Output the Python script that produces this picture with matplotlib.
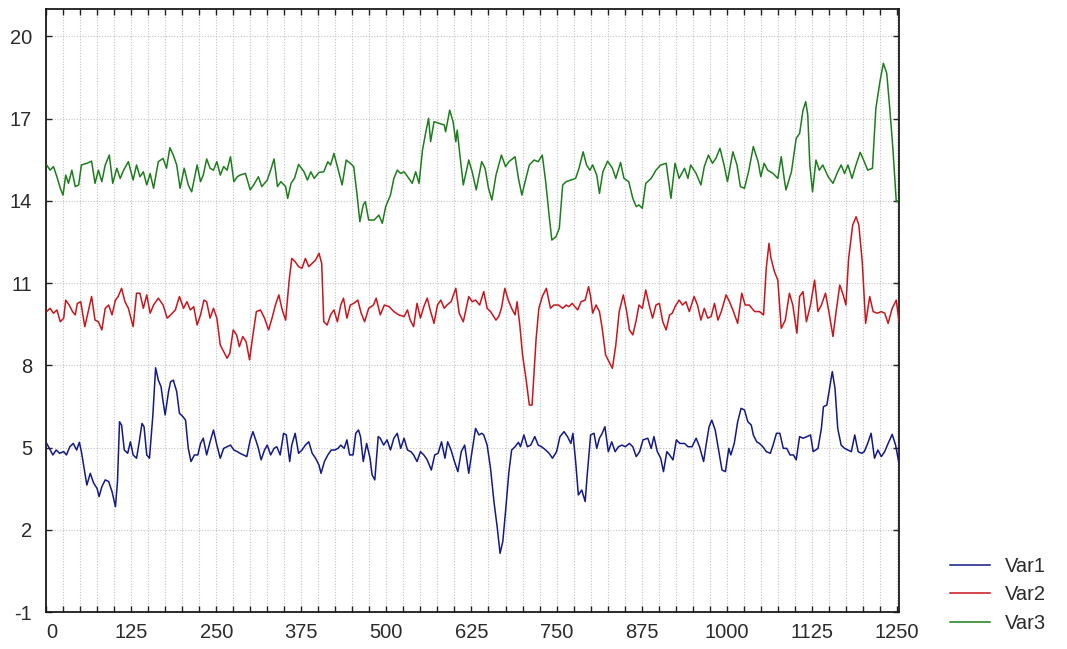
import matplotlib
matplotlib.use("Agg")
import matplotlib.pyplot as plt
from matplotlib.ticker import MultipleLocator, FixedLocator

plt.rcParams["axes.unicode_minus"] = False

# ---------------- data (case number, value) ----------------
var1_x = [1,5,10,15,20,26,30,35,40,45,
          49,52,56,60,65,70,75,78,82,87,
          92,97,102,105,108,111,115,120,124,128,
          133,137,141,144,148,152,157,161,165,169,
          172,175,180,183,187,192,196,201,205,209,
          213,218,223,227,231,236,241,246,251,256,
          261,266,271,276,281,285,290,295,300,304,
          309,312,316,321,325,330,335,339,344,349,
          353,358,361,366,371,376,381,386,391,396,
          401,404,409,414,419,424,429,433,438,442,
          446,451,455,459,462,466,471,476,479,483,
          488,491,496,501,506,511,516,521,526,531,
          536,540,545,550,555,560,566,571,576,581,
          586,590,595,600,605,610,615,
          621,625,631,636,640,643,648,653,658,663,
          667,671,675,680,684,689,694,697,702,707,
          712,718,723,728,734,739,744,750,755,761,
          766,771,774,778,782,787,792,795,800,805,
          809,813,817,821,826,831,836,841,846,851,
          857,862,867,872,877,884,889,893,898,903,
          907,912,916,921,926,931,938,943,949,955,
          960,966,970,974,978,983,988,993,998,1003,
          1006,1011,1016,1021,1026,1031,1036,1039,1044,1048,
          1053,1058,1064,1068,1073,1078,1083,1088,1093,1098,
          1102,1107,1112,1118,1123,1127,1134,1139,1142,1147,
          1151,1155,1159,1163,1168,1173,1178,1183,1188,1193,
          1198,1202,1207,1212,1217,1222,1227,1232,1237,1243,
          1248,1253]
var1_y = [5.15,4.97,4.73,4.91,4.79,4.85,4.73,5.03,5.15,4.91,
          5.19,4.85,4.24,3.63,4.06,3.70,3.51,3.21,3.57,3.82,
          3.76,3.39,2.84,3.76,5.94,5.82,4.91,4.79,5.21,4.73,
          4.61,5.21,5.88,5.76,4.73,4.61,6.19,7.91,7.46,7.22,
          6.67,6.19,7.04,7.40,7.46,7.04,6.25,6.13,6.00,4.97,
          4.49,4.73,4.73,5.15,5.34,4.73,5.21,5.64,5.09,4.61,
          4.97,5.03,5.09,4.91,4.85,4.79,4.73,4.67,5.28,5.58,
          5.21,4.97,4.55,4.91,5.09,4.73,4.97,5.03,4.73,5.52,
          5.46,4.49,5.09,5.52,4.79,4.91,5.09,5.21,4.79,4.61,
          4.36,4.06,4.49,4.73,4.91,4.91,4.97,5.09,4.97,5.28,
          4.73,4.73,5.52,5.64,5.40,4.49,5.15,4.61,4.00,3.82,
          5.40,5.34,5.09,5.28,4.91,5.34,5.52,4.97,5.34,4.91,
          4.85,4.73,4.49,4.85,4.73,4.55,4.18,4.73,4.79,5.21,
          4.61,5.21,4.91,4.49,4.12,4.85,5.09,
          4.06,4.73,5.70,5.46,5.52,5.46,5.09,4.24,3.03,2.05,
          1.14,1.57,2.66,4.12,4.91,5.03,5.19,5.03,5.46,5.03,
          5.09,5.40,5.09,5.03,4.91,4.79,4.61,4.85,5.40,5.58,
          5.40,5.15,5.52,4.49,3.27,3.45,3.03,4.00,5.46,5.52,
          4.97,5.34,5.52,5.76,4.85,5.21,4.85,5.03,5.09,5.03,
          5.15,5.03,4.67,4.85,5.28,5.34,4.97,5.40,4.85,4.61,
          4.12,4.85,4.73,4.55,5.28,5.15,5.15,5.03,5.03,5.34,
          5.03,4.49,5.15,5.76,6.00,5.64,4.91,4.18,4.12,4.97,
          4.73,5.15,5.94,6.43,6.37,5.94,5.82,5.46,5.21,5.15,
          5.03,4.85,4.79,5.09,5.52,5.52,4.97,4.97,4.73,4.73,
          4.55,5.40,5.34,5.40,5.46,4.85,4.97,5.70,6.49,6.55,
          7.16,7.77,7.16,5.70,5.09,4.97,4.91,4.85,5.46,4.85,
          4.79,4.85,5.15,5.52,4.61,4.91,4.67,4.85,5.15,5.48,
          5.09,4.42]

var2_x = [1,6,11,16,21,26,29,34,39,43,
          46,51,57,62,67,72,77,82,87,92,
          97,102,106,111,116,121,128,133,138,143,
          148,153,158,165,172,178,183,190,196,202,
          207,212,217,222,227,232,236,241,246,251,
          256,261,266,270,275,280,284,289,294,299,
          304,309,315,321,327,332,337,342,347,352,
          357,361,366,371,376,381,386,391,396,401,
          405,408,413,418,423,428,433,437,442,447,
          452,458,463,468,474,481,485,491,497,504,
          511,518,526,531,535,540,545,550,555,560,
          565,570,575,580,585,589,595,602,607,613,
          621,626,631,637,643,648,653,661,665,669,
          674,679,684,689,692,696,700,705,710,714,
          717,720,724,729,735,741,746,753,759,764,
          768,773,781,786,792,797,800,803,808,813,
          817,822,827,832,837,842,848,853,857,862,
          867,871,876,881,886,891,896,901,906,911,
          916,920,924,930,935,940,945,952,957,962,
          967,972,977,982,987,992,999,1004,1009,1016,
          1022,1027,1033,1041,1048,1054,1058,1062,1065,1070,
          1075,1080,1086,1092,1097,1103,1107,1112,1117,1123,
          1129,1134,1139,1145,1150,1156,1160,1166,1171,1175,
          1179,1185,1190,1194,1199,1204,1210,1215,1221,1227,
          1232,1237,1243,1249,1253]
var2_y = [9.96,10.08,9.90,10.02,9.59,9.72,10.38,10.20,9.96,9.84,
          10.26,10.32,9.41,9.96,10.51,9.65,9.59,9.29,10.08,10.20,
          9.84,10.38,10.51,10.81,10.32,10.08,9.41,10.63,10.63,10.08,
          10.57,9.90,10.20,10.45,10.20,9.72,9.84,10.02,10.51,10.08,
          10.32,10.02,10.14,9.47,9.84,10.38,10.32,9.72,10.08,9.72,
          8.74,8.50,8.26,8.44,9.29,9.11,8.68,9.05,8.86,8.20,
          9.11,9.96,10.02,9.72,9.29,9.72,10.20,10.57,10.02,9.65,
          11.05,11.90,11.78,11.60,11.54,11.90,11.60,11.72,11.84,12.09,
          11.72,9.59,9.47,9.84,10.02,9.59,10.20,10.45,9.72,10.20,
          10.26,10.38,9.90,9.59,10.08,10.20,10.45,9.84,10.20,10.14,
          9.96,9.84,9.78,10.02,9.65,9.41,10.26,9.72,10.14,10.45,
          9.96,9.53,10.20,10.38,10.08,10.20,10.32,10.81,9.90,9.59,
          10.51,10.32,10.38,10.20,10.69,10.08,9.96,9.65,9.78,10.08,
          10.81,10.38,10.08,9.84,10.32,9.47,8.38,7.53,6.55,6.55,
          7.77,8.99,10.08,10.51,10.81,10.08,10.20,10.20,10.08,10.20,
          10.14,10.26,10.02,10.32,10.38,10.87,10.51,9.90,10.20,9.96,
          9.35,8.38,8.13,7.89,8.74,9.96,10.57,9.96,9.29,9.11,
          9.65,10.20,10.08,10.75,10.20,9.72,10.20,10.26,9.59,9.29,
          9.84,9.90,10.14,10.38,10.20,10.32,9.96,10.51,10.20,9.65,
          10.08,9.72,9.78,10.26,9.65,9.96,10.57,10.32,10.02,9.53,
          10.63,10.20,10.20,9.96,9.96,9.84,11.54,12.45,11.90,11.42,
          11.11,9.35,9.65,10.63,10.20,9.17,10.51,10.69,9.59,10.20,
          11.11,9.96,10.20,10.63,9.96,9.05,9.84,10.93,10.57,10.20,
          11.90,13.12,13.42,13.12,11.78,9.53,10.51,9.96,9.90,9.96,
          9.90,9.53,10.08,10.38,9.59]

var3_x = [1,6,11,16,21,25,29,33,38,43,
          48,52,60,67,72,77,82,87,93,98,
          104,109,114,121,128,133,138,143,148,153,
          158,165,172,177,182,187,192,197,203,209,
          214,222,227,231,236,241,246,251,256,261,
          266,271,276,281,285,293,300,305,312,317,
          325,330,335,340,345,352,355,360,365,371,
          379,384,389,394,401,408,414,418,423,428,
          435,441,447,452,457,461,466,469,474,482,
          489,494,499,506,511,516,521,526,533,538,
          543,548,553,558,562,565,570,577,585,587,
          593,598,602,604,608,613,
          621,626,632,640,645,650,655,661,669,675,
          680,689,694,699,705,710,717,723,729,734,
          739,743,749,754,759,764,771,778,783,789,
          794,799,803,809,813,818,825,832,837,844,
          849,856,862,867,871,876,881,889,896,903,
          911,918,924,930,938,943,947,955,962,967,
          973,979,984,990,996,1001,1009,1015,1020,1026,
          1032,1039,1046,1050,1055,1060,1068,1075,1080,1085,
          1087,1095,1102,1107,1112,1116,1119,1122,1126,1131,
          1136,1141,1149,1156,1163,1168,1173,1178,1184,1189,
          1196,1202,1207,1214,1219,1225,1230,1235,1239,1244,
          1249,1253]
var3_y = [15.31,15.12,15.25,14.88,14.46,14.21,14.94,14.64,15.12,14.52,
          14.58,15.31,15.37,15.45,14.64,15.12,14.70,15.31,15.67,14.64,
          15.19,14.82,15.12,15.43,14.76,15.31,14.88,15.06,14.58,15.00,
          14.46,15.43,15.55,15.19,15.94,15.67,15.31,14.46,15.19,14.58,
          14.33,15.31,14.70,14.94,15.53,15.19,15.12,15.43,14.94,15.25,
          15.12,15.61,14.70,14.88,14.94,15.00,14.40,14.58,14.88,14.52,
          14.76,15.12,15.53,14.52,14.70,14.52,14.09,14.64,14.82,15.33,
          15.06,14.76,15.06,14.82,15.04,15.06,15.43,15.31,15.73,15.25,
          14.58,15.49,15.37,15.25,14.21,13.24,13.85,13.97,13.30,13.30,
          13.48,13.18,13.79,14.21,14.82,15.12,15.00,15.06,14.82,14.64,
          15.06,14.64,15.85,16.52,17.01,16.16,16.89,16.83,16.77,16.52,
          17.31,16.89,16.16,16.58,15.67,14.58,
          15.49,15.06,14.40,15.43,15.19,14.46,14.03,14.94,15.67,15.25,
          15.43,15.61,14.82,14.21,14.82,15.31,15.49,15.43,15.67,14.70,
          13.48,12.57,12.69,13.00,14.58,14.70,14.76,14.82,15.19,15.79,
          15.31,15.12,15.31,14.94,14.27,15.06,15.45,15.19,14.82,15.40,
          14.82,14.70,14.09,13.79,13.85,13.73,14.64,14.82,15.12,15.31,
          15.37,14.09,15.37,14.82,15.19,14.82,15.31,15.00,14.58,15.25,
          15.67,15.37,15.55,15.92,15.31,14.70,15.79,15.31,14.52,14.46,
          15.06,15.98,15.43,14.88,15.37,15.12,15.00,14.82,15.61,14.70,
          14.40,15.06,16.28,16.46,17.31,17.62,17.13,15.31,14.33,15.49,
          15.12,15.31,14.88,14.64,15.06,15.31,15.00,15.31,14.82,15.25,
          15.77,15.43,15.12,15.19,17.37,18.35,19.02,18.65,17.50,15.92,
          13.97,14.03]

series_names = ["Var1", "Var2", "Var3"]
x_tick_values = [0, 125, 250, 375, 500, 625, 750, 875, 1000, 1125, 1250]
y_tick_values = [-1, 2, 5, 8, 11, 14, 17, 20]

# ---------------- style ----------------
colors = ["#131a86", "#c8161c", "#1d7d1d"]
FONT = "Liberation Sans"
FS = 14.5
TXT = "#2b2b2b"

fig = plt.figure(figsize=(10.67, 6.49), dpi=100)
ax = fig.add_axes([46/1067, 37/649, 853/1067, 603/649])

handles = []
for xs, ys, c, name in zip([var1_x, var2_x, var3_x], [var1_y, var2_y, var3_y],
                           colors, series_names):
    h, = ax.plot(xs, ys, color=c, lw=1.1, label=name, zorder=3)
    handles.append(h)

ax.set_xlim(0, 1253)
ax.set_ylim(-1, 21)
ax.xaxis.set_major_locator(FixedLocator(x_tick_values))
ax.xaxis.set_minor_locator(MultipleLocator(25))
ax.yaxis.set_major_locator(FixedLocator(y_tick_values))

ax.grid(False)
ax.grid(which="both", axis="x", color="#c4c4c4", linestyle=(0, (1, 1.5)), lw=0.8, zorder=0)
ax.grid(which="major", axis="y", color="#c4c4c4", linestyle=(0, (1, 1.5)), lw=0.8, zorder=0)

ax.tick_params(axis="both", which="both", direction="in", length=4, width=1,
               top=True, right=True, color="#222222")
ax.tick_params(axis="x", which="major", pad=8, labelsize=FS, labelcolor=TXT)
ax.tick_params(axis="y", which="major", pad=10, labelsize=FS, labelcolor=TXT)
for lab in ax.get_xticklabels() + ax.get_yticklabels():
    lab.set_fontfamily(FONT)
ax.get_xticklabels()[0].set_horizontalalignment("left")

for sp in ax.spines.values():
    sp.set_linewidth(1.3)
    sp.set_color("#1a1a1a")

leg = fig.legend(handles=handles, labels=series_names, loc="upper left",
                 bbox_to_anchor=(950/1067, 1 - 557/649), frameon=False,
                 borderpad=0, borderaxespad=0, handlelength=2.0,
                 handletextpad=0.75, labelspacing=0.47,
                 prop={"family": FONT, "size": FS})
for t in leg.get_texts():
    t.set_color(TXT)

fig.savefig("out.png", dpi=100)
